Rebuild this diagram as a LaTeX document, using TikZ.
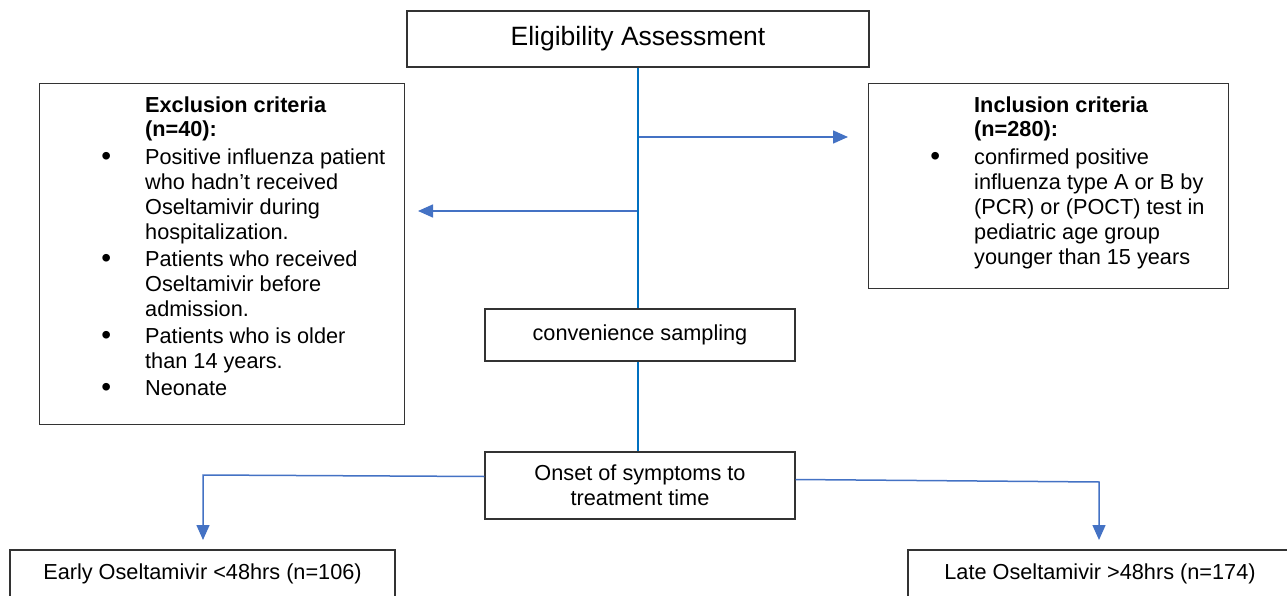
\documentclass[tikz,border=0pt]{standalone}
\usepackage{fontspec}
\setmainfont{Liberation Sans}
\usetikzlibrary{arrows.meta, calc}

\definecolor{stemblue}{RGB}{0,112,192}
\definecolor{arrowblue}{RGB}{68,114,196}

% hanging bullet for the criteria lists
\newcommand{\critbullet}{\llap{\raisebox{-1pt}{\fontsize{28}{25}\selectfont\textbullet}\hspace{34pt}}}

\begin{document}
\begin{tikzpicture}[
        x=1pt, y=-1pt,
        every node/.style={font=\fontsize{21.7}{25}\selectfont},
        box/.style={draw=black!80, line width=1.2pt, inner sep=0pt},
        listtext/.style={inner sep=0pt, align=left, anchor=north west},
        stem/.style={stemblue, line width=2pt},
        branch/.style={arrowblue, line width=1.5pt, -{Triangle[length=15pt, width=13pt]}}
    ]
        % Page frame (bottom boxes run off the page)
        \useasboundingbox (0,0) rectangle (1287,596);
        \clip (0,0) rectangle (1287,596);

        % Main boxes
        \node[box, minimum width=462, minimum height=56, font=\fontsize{26.5}{30}\selectfont]
            (elig) at (638,39) {Eligibility Assessment};
        \node[box, minimum width=310, minimum height=52] (conv) at (640,335) {convenience sampling};
        \node[box, minimum width=310, minimum height=67, align=center]
            (onset) at (640,485.5) {Onset of symptoms to\\ treatment time};

        % Criteria boxes
        \node[box, minimum width=365, minimum height=341, anchor=north west] (excl) at (39,83) {};
        \node[listtext] (exclText) at ($(excl.north west)+(106,14)$) {%
            \textbf{Exclusion criteria}\\[-1pt]
            \textbf{(n=40):}\\[3pt]
            \critbullet Positive influenza patient\\
            who hadn’t received\\
            Oseltamivir during\\
            hospitalization.\\[2pt]
            \critbullet Patients who received\\
            Oseltamivir before\\
            admission.\\[1.5pt]
            \critbullet Patients who is older\\
            than 14 years.\\[2pt]
            \critbullet Neonate};

        \node[box, minimum width=360, minimum height=205, anchor=north west] (incl) at (868,83) {};
        \node[listtext] (inclText) at ($(incl.north west)+(106,14)$) {%
            \textbf{Inclusion criteria}\\[-1pt]
            \textbf{(n=280):}\\[3pt]
            \critbullet confirmed positive\\
            influenza type A or B by\\
            (PCR) or (POCT) test in\\
            pediatric age group\\
            younger than 15 years};

        % Outcome boxes
        \node[box, minimum width=385, minimum height=48] (early) at (202.5,574) {Early Oseltamivir <48hrs (n=106)};
        \node[box, minimum width=384, minimum height=48] (late) at (1100,574) {Late Oseltamivir >48hrs (n=174)};

        % Branch points and arrow ends
        \coordinate (splitR) at (638,137);
        \coordinate (splitL) at (638,211);
        \coordinate (inclTip) at (848,137);
        \coordinate (exclTip) at (418,211);
        \coordinate (earlyTurn) at (203,475);
        \coordinate (earlyTip) at (203,540);
        \coordinate (lateTurn) at (1099,482);
        \coordinate (lateTip) at (1099,540);

        % Branches
        \draw[branch] (splitR) -- (inclTip);
        \draw[branch] (splitL) -- (exclTip);
        \draw[branch] ($(onset.west)+(0,-9)$) -- (earlyTurn) -- (earlyTip);
        \draw[branch] ($(onset.east)+(0,-6)$) -- (lateTurn) -- (lateTip);

        % Main stem
        \draw[stem] (elig.south) -- (elig.south |- conv.north);
        \draw[stem] (elig.south |- conv.south) -- (elig.south |- onset.north);
    \end{tikzpicture}
\end{document}
